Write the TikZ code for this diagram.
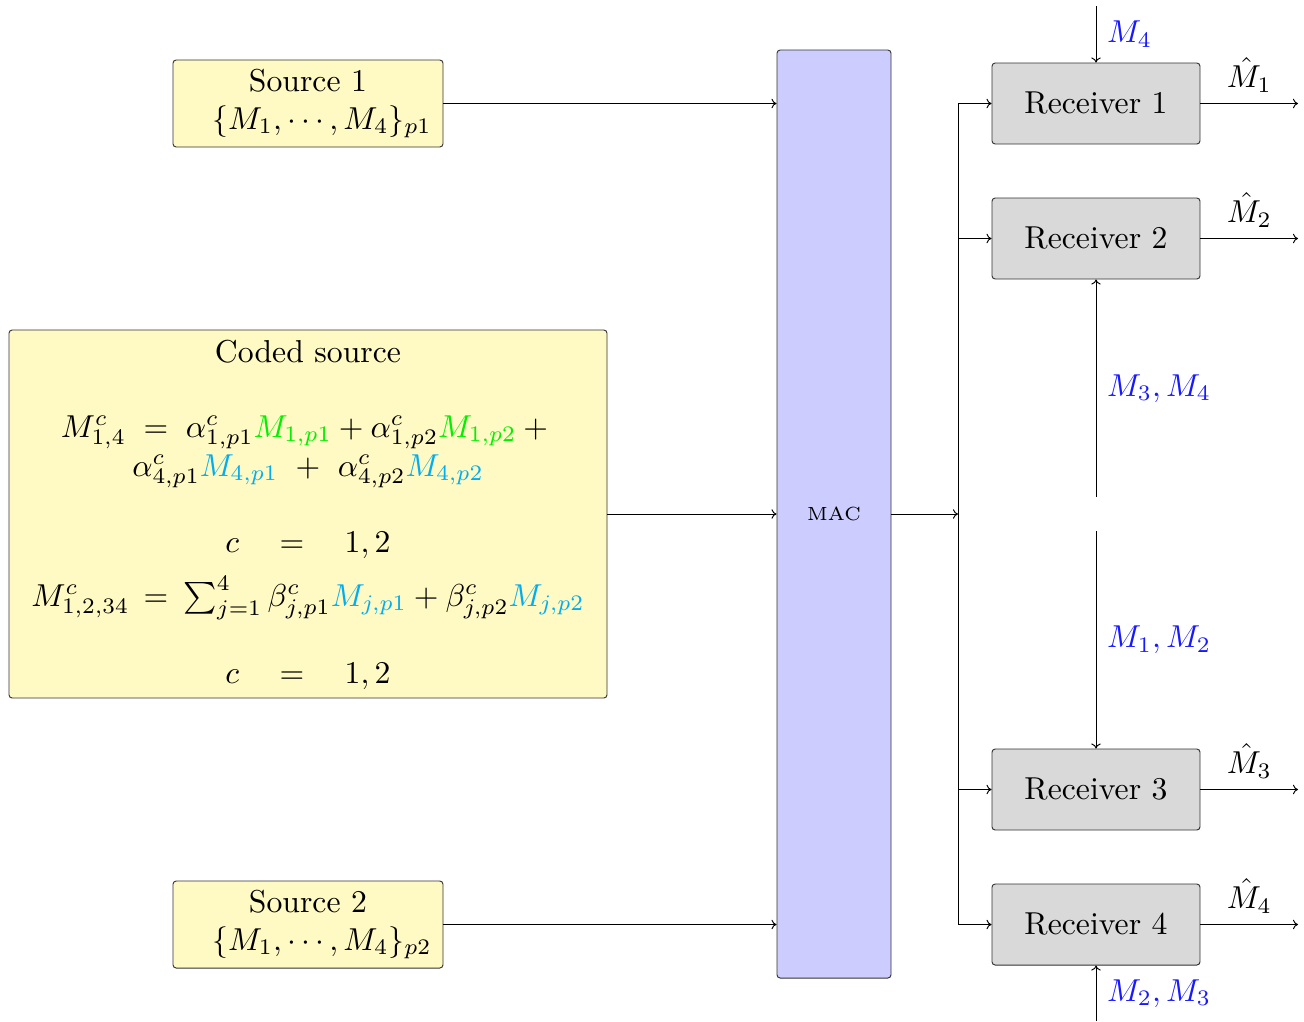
\documentclass[tikz,border=0pt]{standalone}
\usetikzlibrary{arrows.meta}
\definecolor{srcyellow}{RGB}{255,249,195}
\definecolor{macblue}{RGB}{204,204,255}
\definecolor{rxgray}{RGB}{217,217,217}
\definecolor{lblblue}{RGB}{25,25,255}
\definecolor{mgreen}{RGB}{0,240,0}
\definecolor{mcyan}{RGB}{0,174,239}
\newdimen\pxu \pxu=0.3155pt
\tikzset{
  box/.style={draw=black!80, line width=0.3pt, rounded corners=1pt, inner sep=0pt},
  srcbox/.style={box, fill=srcyellow, minimum width=270\pxu, minimum height=87\pxu, align=center},
  rxbox/.style={box, fill=rxgray, minimum width=208\pxu, minimum height=81\pxu},
  arr/.style={line width=0.3pt, -{To[length=1.6pt,width=3pt]}},
  lbl/.style={text=lblblue},
  eqline/.style={anchor=base, inner sep=0pt}
}
\begin{document}
\begin{tikzpicture}[x=0.3155pt, y=-0.3155pt]
\useasboundingbox (0,0) rectangle (1304,1021);
% sources
\node[srcbox] (S1) at (308,103.5) {Source 1\\ \hspace*{8.8pt}$\{M_1,\cdots,M_4\}_{p1}$};
\node[srcbox] (S2) at (308,924.5) {Source 2\\ \hspace*{8.8pt}$\{M_1,\cdots,M_4\}_{p2}$};
% coded source
\node[box, fill=srcyellow, minimum width=598\pxu, minimum height=368\pxu] (CS) at (308,514) {};
\node[eqline] (cs0) at (308,362) {Coded source};
\node[eqline] (cs1) at (308,437) {$M^c_{1,4}\;=\;\alpha^c_{1,p1}{\color{mgreen}M_{1,p1}}+\alpha^c_{1,p2}{\color{mgreen}M_{1,p2}}+{}$};
\node[eqline] (cs2) at (308,476) {$\alpha^c_{4,p1}{\color{mcyan}M_{4,p1}}\hspace{3.3pt}+\hspace{3.3pt}\alpha^c_{4,p2}{\color{mcyan}M_{4,p2}}$};
\node[eqline] (cs3) at (308,552) {$c\quad=\quad1,2$};
\node[eqline] (cs4) at (308,606) {$M^c_{1,2,34}\hspace{1.8pt}=\hspace{2pt}\sum_{j=1}^{4}\beta^c_{j,p1}{\color{mcyan}M_{j,p1}}+\beta^c_{j,p2}{\color{mcyan}M_{j,p2}}$};
\node[eqline] (cs5) at (308,683) {$c\quad=\quad1,2$};
% MAC
\node[box, fill=macblue, minimum width=114\pxu, minimum height=928\pxu] (MAC) at (834,514) {\fontsize{6}{7}\selectfont MAC};
% receivers
\node[rxbox] (R1) at (1096,103.5) {Receiver 1};
\node[rxbox] (R2) at (1096,238.5) {Receiver 2};
\node[rxbox] (R3) at (1096,789.5) {Receiver 3};
\node[rxbox] (R4) at (1096,924.5) {Receiver 4};
% inputs to MAC
\draw[arr] (S1.east) -- (S1.east -| MAC.west);
\draw[arr] (CS.east) -- (CS.east -| MAC.west);
\draw[arr] (S2.east) -- (S2.east -| MAC.west);
% MAC output and bus
\coordinate (J) at (958,514);
\draw[arr] (MAC.east) -- (J);
\draw[line width=0.3pt] (R1.west -| J) -- (R4.west -| J);
\draw[arr] (R1.west -| J) -- (R1.west);
\draw[arr] (R2.west -| J) -- (R2.west);
\draw[arr] (R3.west -| J) -- (R3.west);
\draw[arr] (R4.west -| J) -- (R4.west);
% outputs
\coordinate (OX) at (1298,0);
\draw[arr] (R1.east) -- node[above] {$\hat{M}_1$} (R1.east -| OX);
\draw[arr] (R2.east) -- node[above] {$\hat{M}_2$} (R2.east -| OX);
\draw[arr] (R3.east) -- node[above] {$\hat{M}_3$} (R3.east -| OX);
\draw[arr] (R4.east) -- node[above] {$\hat{M}_4$} (R4.east -| OX);
% side information
\coordinate (T1) at (1096,6);
\coordinate (T2) at (1096,497);
\coordinate (T3) at (1096,531);
\coordinate (T4) at (1096,1021);
\draw[arr] (T1) -- node[right, lbl] {$M_4$} (R1.north);
\draw[arr] (T2) -- node[right, lbl] {$M_3,M_4$} (R2.south);
\draw[arr] (T3) -- node[right, lbl] {$M_1,M_2$} (R3.north);
\draw[arr] (T4) -- node[right, lbl] {$M_2,M_3$} (R4.south);
\end{tikzpicture}
\end{document}
